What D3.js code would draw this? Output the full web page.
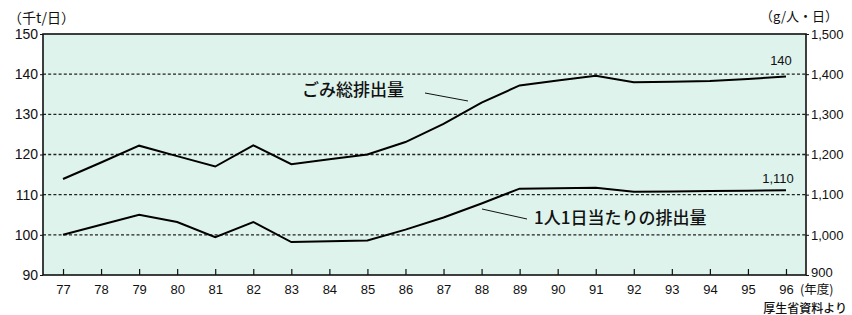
<!DOCTYPE html>
<html><head><meta charset="utf-8">
<script src="https://cdn.jsdelivr.net/npm/d3@7"></script>
<style>
body{margin:0;background:#fff;}
text{font-family:"Liberation Sans","Noto Sans CJK JP",sans-serif;fill:#111;}
.jp{font-family:"Noto Sans CJK JP",sans-serif;}
</style></head>
<body><svg id="c" width="852" height="315"></svg>
<script>
const years = ["77","78","79","80","81","82","83","84","85","86","87","88","89","90","91","92","93","94","95","96"];
const totalWaste = [113.9,118.0,122.2,119.6,117.0,122.3,117.6,118.8,120.0,123.1,127.6,132.9,137.2,138.4,139.6,138.0,138.1,138.3,138.8,139.4];
const perCapita = [1000,1025,1050,1032,994,1032,982,984,986,1013,1043,1078,1115,1116,1117,1107,1108,1109,1110,1111];
const leftTicks = [90,100,110,120,130,140,150];
const rightTicks = [900,1000,1100,1200,1300,1400,1500];
const gridTicks = [100,110,120,130,140];

const svg = d3.select("#c");
const L = 43, R = 806, T = 34, B = 275;
const x = d3.scalePoint().domain(years).range([L, R]).padding(0.526);
const yL = d3.scaleLinear().domain([90,150]).range([B, T]);
const yR = d3.scaleLinear().domain([900,1500]).range([B, T]);

svg.append("rect").attr("x",L).attr("y",T).attr("width",R-L).attr("height",B-T)
  .attr("fill","#ddf3ec");

// grid
svg.append("g").selectAll("line").data(gridTicks).join("line")
  .attr("x1",L).attr("x2",R).attr("y1",d=>yL(d)).attr("y2",d=>yL(d))
  .attr("stroke","#222").attr("stroke-width",1.3).attr("stroke-dasharray","3,2.2");

// border
svg.append("rect").attr("x",L).attr("y",T).attr("width",R-L).attr("height",B-T)
  .attr("fill","none").attr("stroke","#111").attr("stroke-width",1.6);

// axes
const ax = svg.append("g").attr("transform",`translate(0,${B})`)
  .call(d3.axisBottom(x).tickSize(-6).tickPadding(10));
ax.select(".domain").remove();
ax.selectAll("line").attr("stroke","#111").attr("stroke-width",1.2);
ax.selectAll("text").attr("font-size",13);

const al = svg.append("g").attr("transform",`translate(${L},0)`)
  .call(d3.axisLeft(yL).tickValues(leftTicks).tickSize(3).tickPadding(2));
al.select(".domain").remove();
al.selectAll("line").attr("stroke","#111");
al.selectAll("text").attr("font-size",14);

const ar = svg.append("g").attr("transform",`translate(${R},0)`)
  .call(d3.axisRight(yR).tickValues(rightTicks).tickFormat(d3.format(",")).tickSize(3).tickPadding(2));
ar.select(".domain").remove();
ar.selectAll("line").attr("stroke","#111");
ar.selectAll("text").attr("font-size",13);
ar.selectAll(".tick").filter(d=>d===900).select("text").attr("dy","0.1em");

// lines
const lineL = d3.line().x((d,i)=>x(years[i])).y(d=>yL(d));
const lineR = d3.line().x((d,i)=>x(years[i])).y(d=>yR(d));
svg.append("path").attr("d",lineL(totalWaste)).attr("fill","none").attr("stroke","#000").attr("stroke-width",2);
svg.append("path").attr("d",lineR(perCapita)).attr("fill","none").attr("stroke","#000").attr("stroke-width",2);

// annotations
svg.append("text").attr("class","jp").attr("x",302).attr("y",96).attr("font-size",17).attr("font-weight",500).text("ごみ総排出量");
svg.append("line").attr("x1",425).attr("y1",93).attr("x2",468).attr("y2",101).attr("stroke","#111").attr("stroke-width",1);
svg.append("text").attr("class","jp").attr("x",534).attr("y",224).attr("font-size",17).attr("font-weight",500).text("1人1日当たりの排出量");
svg.append("line").attr("x1",482).attr("y1",209).attr("x2",527).attr("y2",219).attr("stroke","#111").attr("stroke-width",1);

svg.append("text").attr("x",x("96")-5).attr("y",65).attr("text-anchor","middle").attr("font-size",13).text("140");
svg.append("text").attr("x",x("96")-8).attr("y",183).attr("text-anchor","middle").attr("font-size",13).text("1,110");

// units
svg.append("text").attr("class","jp").attr("x",8).attr("y",23).attr("font-size",14).text("（千t/日）");
svg.append("text").attr("class","jp").attr("x",838).attr("y",21).attr("text-anchor","end").attr("font-size",13).text("（g/人・日）");
svg.append("text").attr("class","jp").attr("x",800).attr("y",294).attr("font-size",12.5).text("(年度)");
svg.append("text").attr("class","jp").attr("x",847).attr("y",313).attr("text-anchor","end").attr("font-size",12).attr("font-weight",500).text("厚生省資料より");
</script></body></html>
